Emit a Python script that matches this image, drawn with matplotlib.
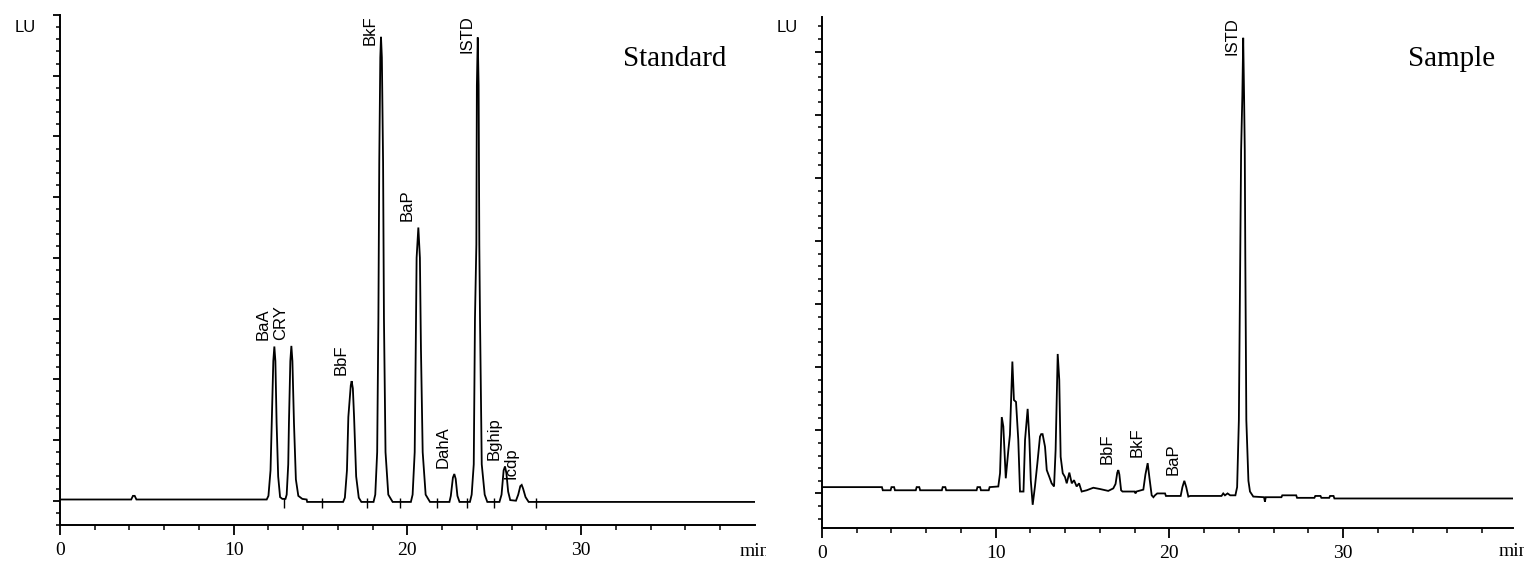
import matplotlib
matplotlib.use('Agg')
import matplotlib.pyplot as plt
import numpy as np
from matplotlib.transforms import Bbox, TransformedBbox

W, H = 1531, 574

# (retention time [min], signal [LU/100])
std_trace = [
    (0, 0.02), (4.1, 0.02), (4.2, 0.08), (4.3, 0.08), (4.4, 0.02),
    (11.9, 0.02), (12.0, 0.08), (12.12, 0.5), (12.19, 1.28), (12.28, 2.3), (12.34, 2.54),
    (12.4, 2.3), (12.47, 1.28), (12.56, 0.4), (12.67, 0.06), (12.8, 0.03),
    (12.98, 0.03), (13.05, 0.1), (13.14, 0.6), (13.18, 1.28), (13.26, 2.3), (13.32, 2.55),
    (13.38, 2.3), (13.47, 1.28), (13.58, 0.35), (13.72, 0.08), (13.95, 0.03), (14.2, 0.02),
    (14.23, -0.02),
    (16.3, -0.02), (16.4, 0.05), (16.52, 0.5), (16.6, 1.38), (16.74, 1.9), (16.79, 1.97),
    (16.86, 1.85), (16.93, 1.38), (17.05, 0.4), (17.2, 0.05), (17.35, -0.02),
    (18.05, -0.02), (18.15, 0.1), (18.26, 0.8), (18.33, 3.0), (18.38, 5.57), (18.44, 7.3),
    (18.48, 7.64), (18.53, 7.3), (18.6, 5.57), (18.65, 3.0), (18.74, 0.8), (18.9, 0.1),
    (19.15, -0.02),
    (20.2, -0.02), (20.3, 0.1), (20.42, 0.8), (20.48, 2.5), (20.53, 4.0), (20.63, 4.5),
    (20.72, 4.0), (20.78, 2.5), (20.88, 0.8), (21.05, 0.1), (21.3, -0.02),
    (22.42, -0.02), (22.5, 0.08), (22.62, 0.38), (22.7, 0.44), (22.78, 0.36), (22.88, 0.08),
    (23.0, -0.02),
    (23.6, -0.02), (23.7, 0.1), (23.82, 0.6), (23.89, 3.0), (23.97, 4.22), (24.0, 6.84),
    (24.05, 7.63), (24.1, 6.84), (24.14, 4.22), (24.18, 3.0), (24.28, 0.6), (24.45, 0.1),
    (24.6, -0.02),
    (25.3, -0.02), (25.42, 0.1), (25.54, 0.5), (25.62, 0.565), (25.7, 0.45), (25.8, 0.15),
    (25.92, 0.01),
    (26.25, 0.0), (26.38, 0.1), (26.5, 0.24), (26.58, 0.26), (26.66, 0.2), (26.8, 0.06),
    (26.98, -0.02), (40, -0.02),
]
std_names = ['BaA', 'CRY', 'BbF', 'BkF', 'BaP', 'DahA', 'ISTD', 'Bghip', 'Icdp']
std_rt = [12.34, 13.32, 16.79, 18.48, 20.63, 22.70, 24.05, 25.62, 26.58]
std_height = [2.54, 2.55, 1.97, 7.64, 4.50, 0.44, 7.63, 0.565, 0.26]
std_marks = [12.9, 15.06, 17.66, 19.57, 21.72, 23.45, 24.98, 27.4]

smp_trace = [
    (0, 0.10), (3.45, 0.10), (3.5, 0.05), (3.95, 0.05), (4.0, 0.1), (4.15, 0.1), (4.2, 0.05),
    (5.4, 0.05), (5.45, 0.1), (5.6, 0.1), (5.65, 0.05), (6.9, 0.05), (6.95, 0.1), (7.1, 0.1),
    (7.15, 0.05), (8.9, 0.05), (8.95, 0.1), (9.1, 0.1), (9.15, 0.05), (9.6, 0.05),
    (9.65, 0.1), (10.15, 0.11),
    (10.25, 0.32), (10.35, 1.21), (10.44, 1.06), (10.58, 0.24), (10.73, 0.69), (10.82, 0.93),
    (10.96, 2.09), (11.05, 1.48), (11.17, 1.45), (11.3, 0.85), (11.4, 0.03), (11.6, 0.03),
    (11.69, 0.85), (11.84, 1.34), (11.94, 0.85), (12.02, 0.21), (12.13, -0.18), (12.26, 0.11),
    (12.4, 0.48), (12.55, 0.9), (12.62, 0.94), (12.7, 0.94), (12.84, 0.74), (12.94, 0.37),
    (13.09, 0.26), (13.22, 0.16), (13.36, 0.11), (13.45, 0.69), (13.57, 2.21), (13.66, 1.8),
    (13.74, 0.58), (13.86, 0.32), (13.99, 0.26), (14.09, 0.16), (14.24, 0.33), (14.38, 0.16),
    (14.51, 0.21), (14.66, 0.11), (14.8, 0.16), (14.95, 0.03), (15.24, 0.05), (15.62, 0.09),
    (16.0, 0.07), (16.48, 0.04), (16.77, 0.08),
    (16.9, 0.15), (17.0, 0.33), (17.06, 0.37), (17.12, 0.3), (17.22, 0.05), (17.3, 0.03),
    (18.0, 0.03), (18.05, 0.0), (18.1, 0.03), (18.5, 0.06), (18.62, 0.3), (18.75, 0.48),
    (18.85, 0.25), (18.98, -0.03), (19.08, -0.06), (19.17, -0.03), (19.3, 0.0), (19.75, 0.0),
    (19.8, -0.04),
    (20.65, -0.04), (20.75, 0.1), (20.86, 0.2), (20.97, 0.1), (21.09, -0.05), (21.2, -0.04),
    (23.0, -0.04), (23.1, 0.0), (23.2, -0.03), (23.35, 0.0), (23.5, -0.03), (23.8, -0.03),
    (23.9, 0.1), (24.0, 1.16), (24.08, 3.78), (24.13, 5.44), (24.2, 6.3), (24.25, 7.22),
    (24.3, 6.3), (24.34, 5.44), (24.37, 3.78), (24.43, 1.16), (24.55, 0.2), (24.64, 0.03),
    (24.83, -0.05),
    (25.45, -0.06), (25.5, -0.13), (25.55, -0.06), (26.45, -0.06), (26.5, -0.03), (27.3, -0.03),
    (27.35, -0.07), (28.35, -0.07), (28.4, -0.04), (28.7, -0.04), (28.75, -0.07), (29.2, -0.07),
    (29.25, -0.04), (29.45, -0.04), (29.5, -0.08), (39.8, -0.08),
]
smp_names = ['BbF', 'BkF', 'BaP', 'ISTD']
smp_rt = [17.06, 18.75, 20.86, 24.25]
smp_height = [0.37, 0.48, 0.20, 7.22]

x_major = [0, 10, 20, 30]
x_minor = [2, 4, 6, 8, 12, 14, 16, 18, 22, 24, 26, 28, 32, 34, 36, 38]

SERIF = 'Liberation Serif'
SANS = 'Liberation Sans'

fig = plt.figure(figsize=(W / 100, H / 100), dpi=100)


def panel(px_left, px_right, px_top, px_bot, xmax, ylo, yhi, trace, names, rt, height,
          title, title_x, lu_x, marks=None):
    ax = fig.add_axes([px_left / W, 1 - px_bot / H, (px_right - px_left) / W,
                       (px_bot - px_top) / H])
    t, s = zip(*trace)
    ax.plot(t, s, color='black', lw=1.3, solid_joinstyle='miter')
    if marks:
        ax.vlines(marks, -0.12, 0.04, color='black', lw=1.0)

    for name, x, h in zip(names, rt, height):
        if h > 6.5:
            ax.annotate(name, xy=(x, yhi), xytext=(-2.5, 0), textcoords='offset points',
                        rotation=90, ha='right', va='top', fontsize=12, family=SANS)
        else:
            ax.annotate(name, xy=(x, h), xytext=(-2.5, 4.5), textcoords='offset points',
                        rotation=90, ha='right', va='bottom', fontsize=12, family=SANS)

    ax.set_xlim(0, xmax)
    ax.set_ylim(ylo, yhi)
    for side in ['top', 'right']:
        ax.spines[side].set_visible(False)
    for side in ['left', 'bottom']:
        ax.spines[side].set_linewidth(1.4)

    ax.set_xticks(x_major)
    ax.set_xticks(x_minor, minor=True)
    ax.set_xticklabels([str(v) for v in x_major], family=SERIF, fontsize=14)
    ax.set_yticks(np.arange(0, yhi + 0.01, 1.0))
    ax.set_yticks(np.arange(-0.4, yhi + 0.01, 0.2), minor=True)
    ax.tick_params(axis='x', which='major', direction='out', length=7, width=1.3, pad=5.5)
    ax.tick_params(axis='x', which='minor', direction='out', length=3.5, width=1.1)
    ax.tick_params(axis='y', which='major', direction='out', length=5, width=1.3,
                   labelleft=False)
    ax.tick_params(axis='y', which='minor', direction='out', length=3, width=1.1)

    fig.text(title_x / W, 1 - 66 / H, title, ha='center', va='baseline',
             family=SERIF, fontsize=21)
    fig.text(lu_x / W, 1 - 28 / H, 'LU', ha='center', va='center',
             family=SANS, fontsize=12)

    # axis unit at the end of the time axis (the left one is cut off by the right panel)
    unit = fig.text((px_right - 15) / W, 1 - 552 / H, 'min', ha='left', va='center',
                    family=SERIF, fontsize=14)
    clip = TransformedBbox(Bbox([[0, 0], [(px_right + 11) / W, 1]]), fig.transFigure)
    unit.set_clip_box(clip)
    unit.set_clip_on(True)
    return ax


panel(60, 754.8, 15, 525, 40, -0.4, 8.0, std_trace, std_names, std_rt, std_height,
      'Standard', 675, 25, marks=std_marks)
panel(822, 1513.3, 17, 527.5, 39.8, -0.54, 7.55, smp_trace, smp_names, smp_rt, smp_height,
      'Sample', 1452, 787)

fig.savefig('out.png', dpi=100)
